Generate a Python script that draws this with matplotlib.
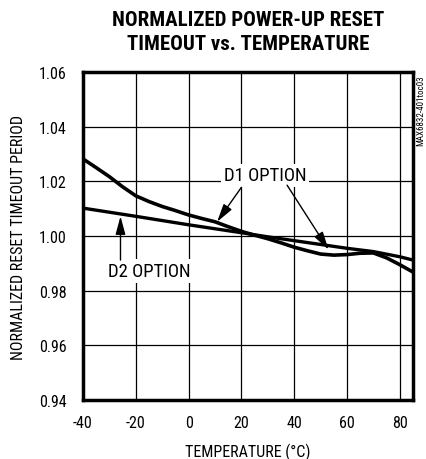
import matplotlib
matplotlib.use("Agg")
import matplotlib.pyplot as plt
from matplotlib import font_manager
from matplotlib.font_manager import FontProperties

# Data
temp_d1 = [-40, -35, -30, -25, -20, -15, -10, -5, 0, 5, 10, 15, 20, 25, 30, 35,
           40, 45, 50, 55, 60, 65, 70, 75, 80, 85]
d1 = [1.0282, 1.0250, 1.0217, 1.0180, 1.0147, 1.0126, 1.0108, 1.0093, 1.0077,
      1.0064, 1.0052, 1.0034, 1.0017, 1.0003, 0.9990, 0.9975, 0.9959, 0.9946,
      0.9934, 0.9930, 0.9932, 0.9937, 0.9938, 0.9920, 0.9895, 0.9868]
temp_d2 = [-40, -20, 0, 20, 30, 40, 50, 60, 70, 80, 85]
d2 = [1.0102, 1.0072, 1.0041, 1.0012, 0.9997, 0.9983, 0.9969, 0.9955, 0.9943, 0.9924, 0.9912]

xticks = [-40, -20, 0, 20, 40, 60, 80]
yticks = [0.94, 0.96, 0.98, 1.00, 1.02, 1.04, 1.06]
ytick_labels = ["0.94", "0.96", "0.98", "1.00", "1.02", "1.04", "1.06"]


def find_font(bold):
    files = [f for f in font_manager.fontManager.ttflist]
    prefs = ["LiberationSansNarrow", "RobotoCondensed", "DejaVuSansCondensed", "OpenSans_Condensed",
             "OpenSansCondensed", "Condensed", "Narrow"]
    for p in prefs:
        for f in files:
            fn = f.fname.replace("-", "").replace(" ", "")
            if p.replace("-", "") in fn:
                isbold = ("Bold" in f.fname) or (str(f.weight) in ("bold", "700"))
                isital = ("Italic" in f.fname) or ("Oblique" in f.fname) or f.style != "normal"
                if isbold == bold and not isital:
                    return FontProperties(fname=f.fname)
    return FontProperties(family="Liberation Sans", weight="bold" if bold else "normal")


fp_reg = find_font(False)
fp_bold = find_font(True)

plt.rcParams['axes.unicode_minus'] = False

fig = plt.figure(figsize=(4.27, 4.60), dpi=100)
ax = fig.add_axes([83/427, 59/460, 330/427, 328/460])

ax.plot(temp_d1, d1, color="black", lw=2.6, solid_capstyle="butt", zorder=3)
ax.plot(temp_d2, d2, color="black", lw=2.4, solid_capstyle="butt", zorder=3)

ax.set_xlim(-40, 85)
ax.set_ylim(0.94, 1.06)
ax.set_xticks(xticks)
ax.set_yticks(yticks)
ax.set_yticklabels(ytick_labels)
ax.tick_params(axis="x", length=0, pad=11)
ax.tick_params(axis="y", length=0, pad=12)
for lab in ax.get_xticklabels() + ax.get_yticklabels():
    lab.set_fontproperties(fp_reg)
    lab.set_fontsize(11.5)
ax.grid(True, color="black", lw=0.9)
for s in ax.spines.values():
    s.set_linewidth(2.5)

ax.set_xlabel("TEMPERATURE (°C)", fontproperties=fp_reg, fontsize=11.5, labelpad=9)
ax.set_ylabel("NORMALIZED RESET TIMEOUT PERIOD", fontproperties=fp_reg, fontsize=11.5, labelpad=9)

fig.text(248/427, 1 - 20/460, "NORMALIZED POWER-UP RESET", ha="center", va="center",
         fontproperties=fp_bold, fontsize=15)
fig.text(248/427, 1 - 44/460, "TIMEOUT vs. TEMPERATURE", ha="center", va="center",
         fontproperties=fp_bold, fontsize=15)

fig.text(421/427, 1 - 111/460, "MAX6832-401toc03", rotation=90, ha="center", va="center",
         fontproperties=fp_reg, fontsize=6.5)

bbox = dict(boxstyle="square,pad=0.15", fc="white", ec="none")
ax.text(29, 1.0222, "D1 OPTION", ha="center", va="center", fontproperties=fp_reg,
        fontsize=13.5, bbox=bbox, zorder=5)
ax.text(-14.7, 0.9873, "D2 OPTION", ha="center", va="center", fontproperties=fp_reg,
        fontsize=13.5, bbox=bbox, zorder=5)

ap = dict(arrowstyle="-|>,head_length=1.1,head_width=0.3", color="black", lw=1.0,
          shrinkA=0, shrinkB=0)
ax.annotate("", xy=(10.8, 1.0052), xytext=(20, 1.0178), arrowprops=ap, zorder=6)
ax.annotate("", xy=(53, 0.9950), xytext=(37.3, 1.0186), arrowprops=ap, zorder=6)
ax.annotate("", xy=(-25.8, 1.0072), xytext=(-25.8, 0.9912), arrowprops=ap, zorder=6)

fig.savefig("out.png", dpi=100)
